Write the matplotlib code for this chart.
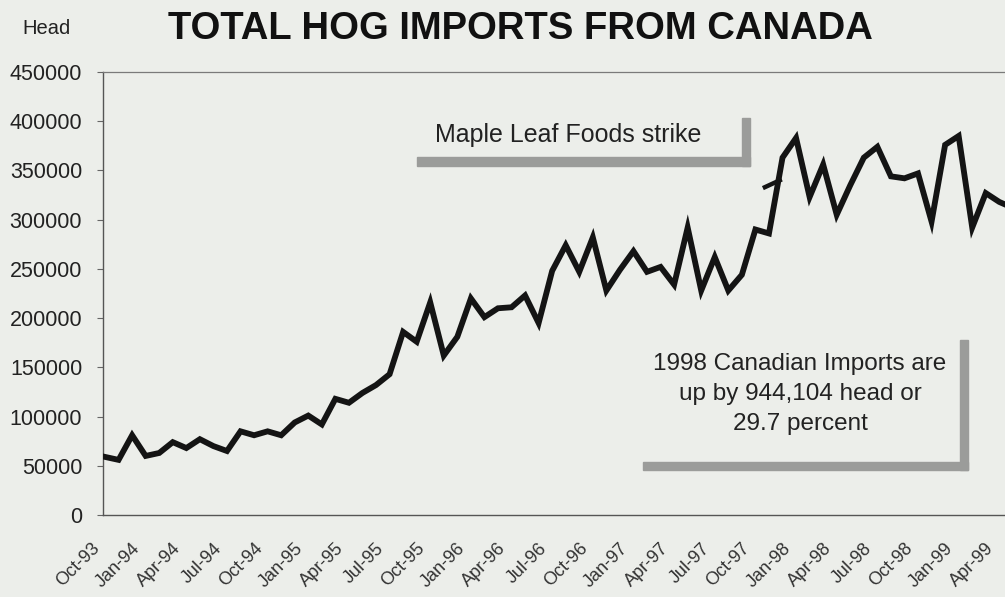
import matplotlib
matplotlib.use('Agg')
import matplotlib.pyplot as plt
from matplotlib.patches import Rectangle
from matplotlib.transforms import ScaledTranslation

# monthly hog imports from Canada, Oct-93 .. May-99 (head)
imports = [
    59000, 56000, 81000, 60000, 63000, 74000, 68000, 77000, 70000, 65000,
    85000, 81000, 85000, 81000, 94000, 101000, 92000, 118000, 114000, 124000,
    132000, 143000, 186000, 176000, 216000, 162000, 181000, 220000, 201000, 210000,
    211000, 223000, 195000, 248000, 274000, 247000, 282000, 228000, 249000, 268000,
    247000, 252000, 234000, 292000, 228000, 262000, 228000, 244000, 290000, 286000,
    363000, 383000, 323000, 356000, 305000, 335000, 363000, 374000, 344000, 342000,
    347000, 298000, 376000, 385000, 292000, 327000, 318000, 312000,
]

tick_labels = [
    'Oct-93', 'Jan-94', 'Apr-94', 'Jul-94', 'Oct-94', 'Jan-95', 'Apr-95', 'Jul-95',
    'Oct-95', 'Jan-96', 'Apr-96', 'Jul-96', 'Oct-96', 'Jan-97', 'Apr-97', 'Jul-97',
    'Oct-97', 'Jan-98', 'Apr-98', 'Jul-98', 'Oct-98', 'Jan-99', 'Apr-99',
]

y_ticks = [0, 50000, 100000, 150000, 200000, 250000, 300000, 350000, 400000, 450000]

title = 'TOTAL HOG IMPORTS FROM CANADA'
note_strike = 'Maple Leaf Foods strike'
note_1998 = '1998 Canadian Imports are\nup by 944,104 head or\n29.7 percent'

# little pointer dash from the strike note (month index, head)
strike_mark_x = [48.7, 49.8]
strike_mark_y = [333000, 340000]

BG = '#eceeea'
SHADOW = '#9b9c9a'
W, H = 1005, 597


def px_rect(fig, x0, y0, x1, y1, color):
    """rectangle given in image pixels (top-left origin)"""
    fig.patches.append(Rectangle((x0 / W, 1 - y1 / H), (x1 - x0) / W, (y1 - y0) / H,
                                 transform=fig.transFigure, color=color, zorder=1))


def main():
    plt.rcParams['font.family'] = ['Liberation Sans', 'DejaVu Sans']
    fig = plt.figure(figsize=(W / 100, H / 100), dpi=100, facecolor=BG)

    left, right, top, bottom = 103, 1005, 72, 515
    ax = fig.add_axes([left / W, 1 - bottom / H, (right - left) / W, (bottom - top) / H])
    ax.set_facecolor(BG)

    x = list(range(len(imports)))
    ax.plot(x, imports, color='#141414', lw=4.2, solid_joinstyle='miter', zorder=3)
    ax.plot(strike_mark_x, strike_mark_y, color='#141414', lw=3.2, zorder=3)

    ax.set_xlim(-0.15, 66.42)
    ax.set_ylim(0, 450000)

    ax.set_yticks(y_ticks)
    ax.set_yticklabels([str(v) for v in y_ticks], fontsize=15.5, color='#222222')
    ax.set_xticks(list(range(0, 3 * len(tick_labels), 3)))
    ax.set_xticklabels(tick_labels, rotation=45, ha='right', va='top',
                       rotation_mode='anchor', fontsize=13, color='#333333')
    ax.tick_params(axis='y', length=4, width=0.8, color='#666666', pad=11)
    ax.tick_params(axis='x', length=0, pad=12)
    shift = ScaledTranslation(-14 / 100, -8 / 100, fig.dpi_scale_trans)
    for lab in ax.get_xticklabels():
        lab.set_transform(lab.get_transform() + shift)

    for side in ['left', 'bottom']:
        ax.spines[side].set_color('#555555')
        ax.spines[side].set_linewidth(1.0)
    ax.spines['top'].set_color('#7a7a7a')
    ax.spines['top'].set_linewidth(0.9)
    ax.spines['right'].set_visible(False)

    fig.text(168 / W, 1 - 29 / H, title, fontsize=27.5, fontweight='bold',
             ha='left', va='center', color='#111111')
    fig.text(46 / W, 1 - 29 / H, 'Head', fontsize=14.5, ha='center', va='center',
             color='#222222')

    # strike note with drop shadow
    px_rect(fig, 417, 157, 750, 166, SHADOW)
    px_rect(fig, 742, 118, 750, 166, SHADOW)
    fig.text(568 / W, 1 - 135 / H, note_strike, fontsize=18, ha='center', va='center',
             color='#222222')

    # 1998 note with drop shadow
    px_rect(fig, 643, 462, 968, 470, SHADOW)
    px_rect(fig, 960, 340, 968, 470, SHADOW)
    fig.text(800 / W, 1 - 394 / H, note_1998, fontsize=17.5, ha='center', va='center',
             linespacing=1.45, color='#222222')

    fig.savefig('out.png', dpi=100, facecolor=BG)


if __name__ == '__main__':
    main()
